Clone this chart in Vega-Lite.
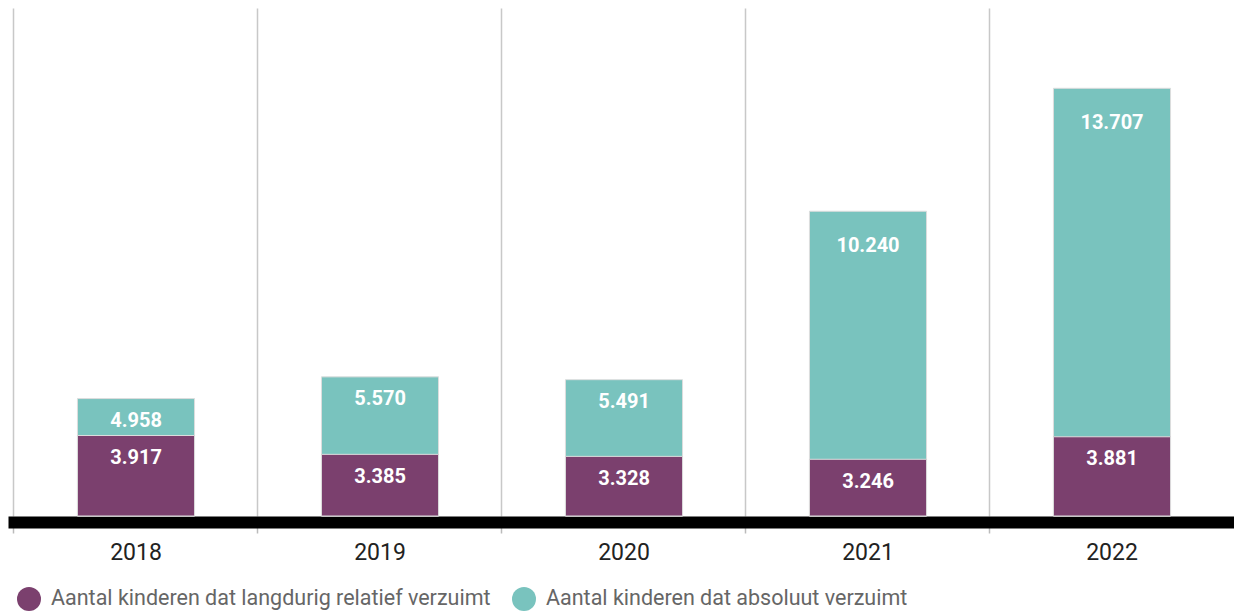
{
  "$schema": "https://vega.github.io/schema/vega-lite/v6.json",
  "width": 1220,
  "height": 508,
  "autosize": {"type": "none"},
  "padding": {"left": 14, "top": 8, "right": 0, "bottom": 95},
  "background": "white",
  "config": {
    "view": {"stroke": null},
    "font": "Roboto",
    "locale": {"number": {"decimal": ",", "thousands": ".", "grouping": [3], "currency": ["€", ""]}}
  },
  "data": {
    "values": [
      {"jaar": "2018", "reeks": "Aantal kinderen dat absoluut verzuimt", "waarde": 4958},
      {"jaar": "2019", "reeks": "Aantal kinderen dat absoluut verzuimt", "waarde": 5570},
      {"jaar": "2020", "reeks": "Aantal kinderen dat absoluut verzuimt", "waarde": 5491},
      {"jaar": "2021", "reeks": "Aantal kinderen dat absoluut verzuimt", "waarde": 10240},
      {"jaar": "2022", "reeks": "Aantal kinderen dat absoluut verzuimt", "waarde": 13707},
      {"jaar": "2018", "reeks": "Aantal kinderen dat langdurig relatief verzuimt", "waarde": 3917},
      {"jaar": "2019", "reeks": "Aantal kinderen dat langdurig relatief verzuimt", "waarde": 3385},
      {"jaar": "2020", "reeks": "Aantal kinderen dat langdurig relatief verzuimt", "waarde": 3328},
      {"jaar": "2021", "reeks": "Aantal kinderen dat langdurig relatief verzuimt", "waarde": 3246},
      {"jaar": "2022", "reeks": "Aantal kinderen dat langdurig relatief verzuimt", "waarde": 3881}
    ]
  },
  "encoding": {
    "x": {
      "field": "jaar",
      "type": "nominal",
      "scale": {"paddingInner": 0.52, "paddingOuter": 0.26},
      "axis": {
        "title": null,
        "orient": "bottom",
        "offset": 6,
        "domainColor": "black",
        "domainWidth": 12,
        "domainCap": "square",
        "bandPosition": -0.5417,
        "tickColor": "#bbbbbb",
        "tickSize": 11,
        "tickWidth": 1.5,
        "grid": true,
        "gridColor": "#c8c8c8",
        "gridWidth": 1.5,
        "labelAngle": 0,
        "labelFontSize": 23,
        "labelColor": "#222222",
        "labelPadding": 8
      }
    },
    "y": {
      "field": "waarde",
      "type": "quantitative",
      "stack": null,
      "scale": {"domain": [1647, 15971], "zero": false, "nice": false},
      "axis": null
    }
  },
  "layer": [
    {
      "mark": {"type": "bar", "stroke": "#dddddd", "strokeWidth": 1},
      "encoding": {
        "color": {
          "field": "reeks",
          "type": "nominal",
          "scale": {
            "domain": ["Aantal kinderen dat langdurig relatief verzuimt", "Aantal kinderen dat absoluut verzuimt"],
            "range": ["#7b406e", "#79c3be"]
          },
          "legend": {
            "title": null,
            "orient": "none",
            "legendX": 3,
            "legendY": 579,
            "direction": "horizontal",
            "symbolType": "circle",
            "symbolSize": 576,
            "symbolStrokeWidth": 0,
            "symbolOpacity": 1,
            "labelFontSize": 21.5,
            "labelColor": "#666666",
            "labelOffset": 10,
            "columnPadding": 21,
            "labelLimit": 600,
            "padding": 0
          }
        }
      }
    },
    {
      "transform": [{"filter": "datum.waarde < 10000"}],
      "mark": {"type": "text", "baseline": "middle", "dy": 22.5, "color": "white", "fontWeight": "bold", "fontSize": 20},
      "encoding": {"text": {"field": "waarde", "type": "quantitative", "format": ",.0f"}}
    },
    {
      "transform": [{"filter": "datum.waarde >= 10000"}],
      "mark": {"type": "text", "baseline": "middle", "dy": 35, "color": "white", "fontWeight": "bold", "fontSize": 20},
      "encoding": {"text": {"field": "waarde", "type": "quantitative", "format": ",.0f"}}
    }
  ]
}
